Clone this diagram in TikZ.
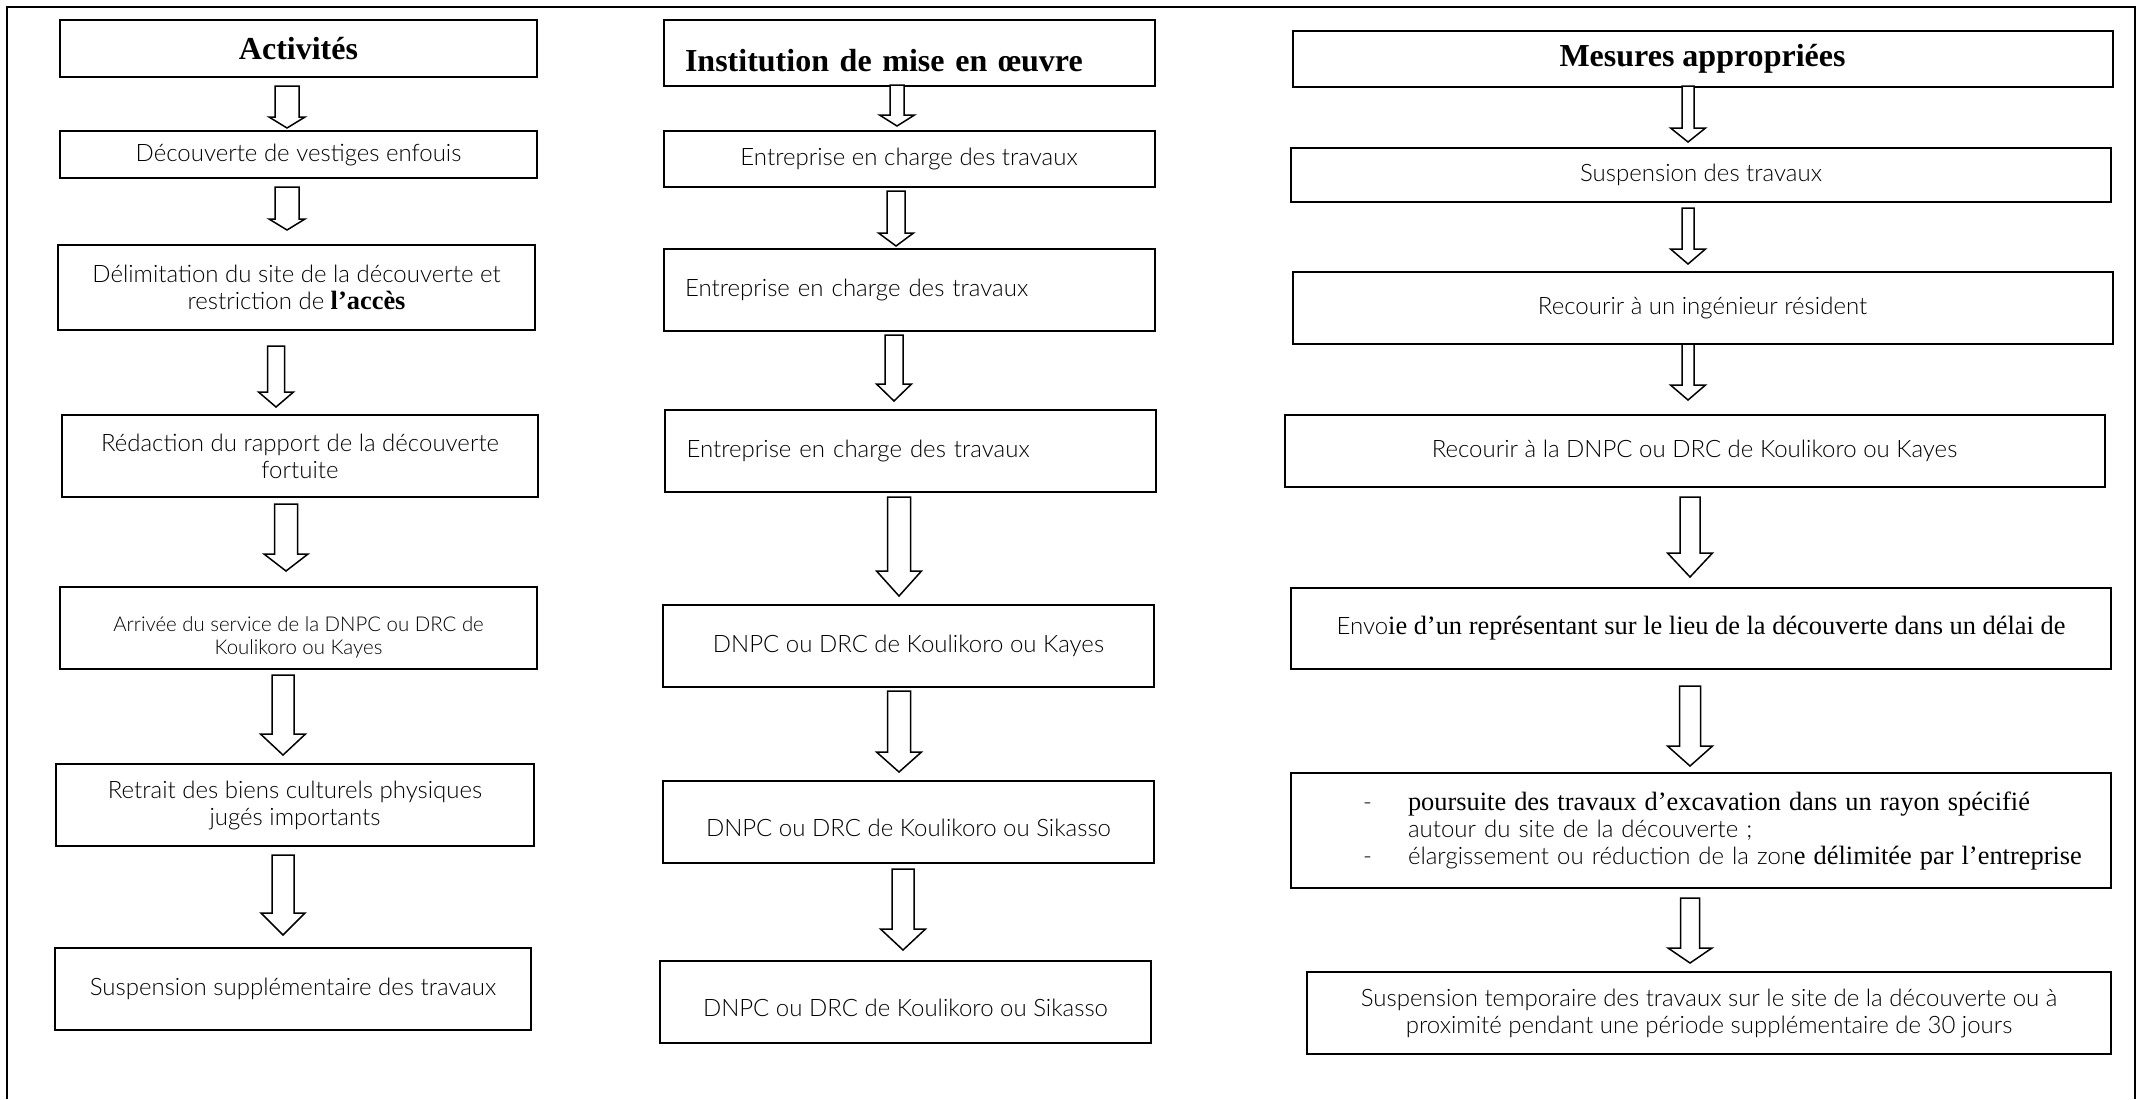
\documentclass[tikz,border=0pt]{standalone}
\usepackage{fontspec}
\setmainfont{Lato Light}
\newfontfamily\serifnet[Scale=1.1]{Liberation Serif}
\usetikzlibrary{calc}
\newcommand{\corps}{\fontsize{12}{13.5}\selectfont}
\newcommand{\petit}{\fontsize{10.2}{11.5}\selectfont}
\newcommand{\titrefont}{\serifnet\bfseries\fontsize{14.55}{17}\selectfont}
% fleche creuse : source, cible, x, ecart haut, ecart bas, demi-tige, demi-tete, longueur tete
\newcommand{\fleche}[8]{%
  \coordinate (fh) at ($(#3,0 |- #1.south)+(0,#4)$);
  \coordinate (fb) at ($(#3,0 |- #2.north)+(0,-#5)$);
  \draw[bloc] ($(fh)+(-#6,0)$) -- ($(fb)+(-#6,-#8)$) -- ($(fb)+(-#7,-#8)$) -- (fb)
    -- ($(fb)+(#7,-#8)$) -- ($(fb)+(#6,-#8)$) -- ($(fh)+(#6,0)$) -- cycle;
}

\begin{document}
\begin{tikzpicture}[x=0.5pt, y=-0.5pt,
  boite/.style={draw, line width=1pt, inner sep=0pt, align=center, font=\corps},
  titre/.style={boite, font=\titrefont},
  bloc/.style={draw, fill=white, line width=0.75pt, line join=miter}]
  \useasboundingbox (0,0) rectangle (2145,1099);
  % cadre ouvert en bas
  \draw[line width=1pt] (7,1099) -- (7,7) -- (2135,7) -- (2135,1099);

  % colonne des activites
  \node[titre, minimum width=238.5pt, minimum height=28.5pt] (a0) at (298.5,48.5) {Activités};
  \node[boite, minimum width=238.5pt, minimum height=23.5pt] (a1) at (298.5,154.5) {Découverte de vestiges enfouis};
  \node[boite, minimum width=238.5pt, minimum height=42.5pt] (a2) at (296.5,287.5)
    {Délimitation du site de la découverte et\\ restriction de {\serifnet\bfseries l’accès}};
  \node[boite, minimum width=238pt, minimum height=41pt] (a3) at (300,456)
    {Rédaction du rapport de la découverte\\ fortuite};
  \node[boite, minimum width=238.5pt, minimum height=41pt, font=\petit] (a4) at (298.5,628)
    {\raisebox{-5pt}[\height][\depth]{\begin{tabular}{@{}c@{}}Arrivée du service de la DNPC ou DRC de\\ Koulikoro ou Kayes\end{tabular}}};
  \node[boite, minimum width=239pt, minimum height=41pt] (a5) at (295,805)
    {Retrait des biens culturels physiques\\ jugés importants};
  \node[boite, minimum width=238pt, minimum height=41pt] (a6) at (293,989) {Suspension supplémentaire des travaux};

  % colonne des institutions
  \node[titre, minimum width=245.5pt, minimum height=33pt, align=left, text width=224pt] (b0) at (909,53)
    {\raisebox{-4pt}[\height][\depth]{Institution de mise en œuvre}};
  \node[boite, minimum width=245.5pt, minimum height=28pt] (b1) at (909,159) {Entreprise en charge des travaux};
  \node[boite, minimum width=245.5pt, minimum height=41pt, align=left, text width=224pt] (b2) at (909,290)
    {Entreprise en charge des travaux};
  \node[boite, minimum width=245.5pt, minimum height=41pt, align=left, text width=224pt] (b3) at (910.5,451)
    {Entreprise en charge des travaux};
  \node[boite, minimum width=245.5pt, minimum height=41pt] (b4) at (908.5,646) {DNPC ou DRC de Koulikoro ou Kayes};
  \node[boite, minimum width=245.5pt, minimum height=41pt] (b5) at (908.5,822)
    {\raisebox{-3pt}[\height][\depth]{DNPC ou DRC de Koulikoro ou Sikasso}};
  \node[boite, minimum width=245.5pt, minimum height=41pt] (b6) at (905.5,1002)
    {\raisebox{-3pt}[\height][\depth]{DNPC ou DRC de Koulikoro ou Sikasso}};

  % colonne des mesures
  \node[titre, minimum width=410pt, minimum height=28pt] (c0) at (1702.5,59) {Mesures appropriées};
  \node[boite, minimum width=410pt, minimum height=27pt] (c1) at (1701,175) {Suspension des travaux};
  \node[boite, minimum width=410pt, minimum height=36pt] (c2) at (1702.5,308) {Recourir à un ingénieur résident};
  \node[boite, minimum width=410pt, minimum height=36pt] (c3) at (1694.5,451) {Recourir à la DNPC ou DRC de Koulikoro ou Kayes};
  \node[boite, minimum width=410pt, minimum height=40.5pt] (c4) at (1701,628.5)
    {Envo{\serifnet ie d’un représentant sur le lieu de la découverte dans un délai de}};
  \node[boite, minimum width=410pt, minimum height=57.5pt, align=left, text width=400pt] (c5) at (1701,830.5)
    {\hspace*{31pt}\makebox[22.5pt][l]{-}\mbox{\serifnet poursuite des travaux d’excavation dans un rayon spécifié}\\
     \hspace*{53.5pt}autour du site de la découverte ;\\
     \hspace*{31pt}\makebox[22.5pt][l]{-}\mbox{élargissement ou réduction de la zon{\serifnet e délimitée par l’entreprise}}};
  \node[boite, minimum width=402pt, minimum height=41pt] (c6) at (1709,1013)
    {Suspension temporaire des travaux sur le site de la découverte ou à\\ proximité pendant une période supplémentaire de 30 jours};

  % fleches
  \fleche{a0}{a1}{287}{8}{2}{12}{18}{11}
  \fleche{a1}{a2}{287}{8}{14}{12}{18}{11}
  \fleche{a2}{a3}{276}{15}{7}{8.5}{17.5}{15}
  \fleche{a3}{a4}{286}{6}{15}{11.5}{22}{17}
  \fleche{a4}{a5}{283}{5}{8}{11}{22.5}{21}
  \fleche{a5}{a6}{283}{8}{12}{11}{22}{22}
  \fleche{b0}{b1}{897}{-2}{4}{7}{17.5}{11}
  \fleche{b1}{b2}{896}{3}{2}{9}{17.5}{13}
  \fleche{b2}{b3}{894}{3}{8}{9}{17.5}{17}
  \fleche{b3}{b4}{899}{4}{8}{11.5}{22.5}{25}
  \fleche{b4}{b5}{899}{3}{8}{11.5}{22.5}{20}
  \fleche{b5}{b6}{903}{5}{10}{11}{22.5}{21}
  \fleche{c0}{c1}{1688}{-2}{5}{6}{17.5}{14}
  \fleche{c1}{c2}{1688}{5}{7}{6}{17.5}{15}
  \fleche{c2}{c3}{1688}{-1}{14}{6}{17.5}{15}
  \fleche{c3}{c4}{1690}{9}{10}{10}{22.5}{24}
  \fleche{c4}{c5}{1690}{16}{6}{10.5}{22.5}{20}
  \fleche{c5}{c6}{1690}{9}{8}{9.5}{22}{15}
\end{tikzpicture}
\end{document}
